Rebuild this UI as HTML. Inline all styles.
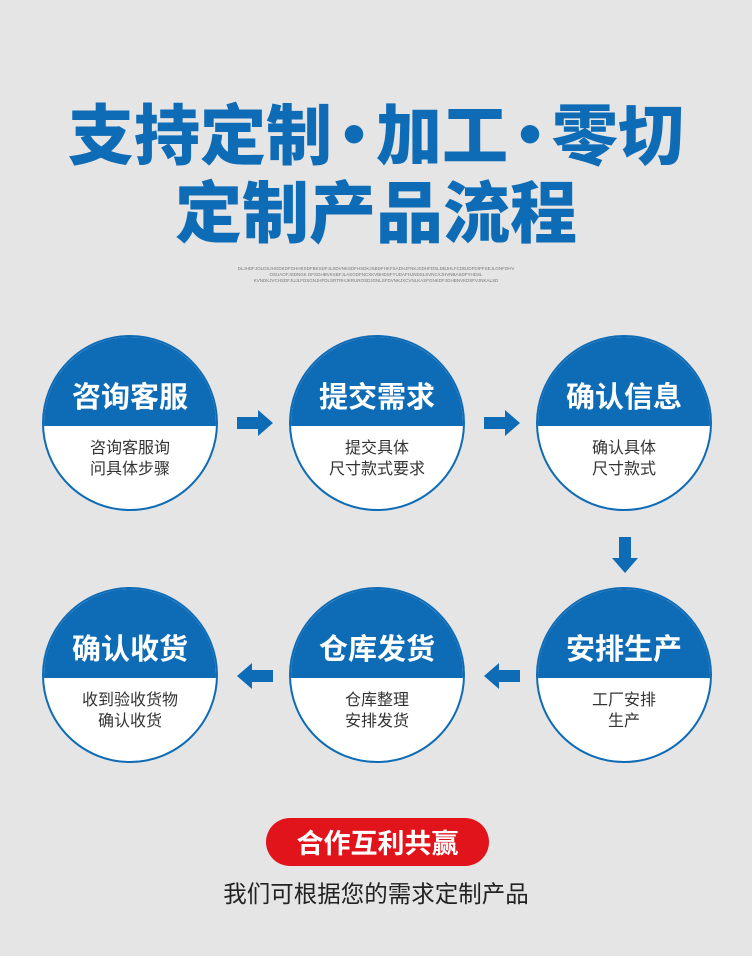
<!DOCTYPE html>
<html><head><meta charset="utf-8"><style>
*{margin:0;padding:0;box-sizing:border-box}
body{width:752px;height:956px;background:#e5e5e5;position:relative;overflow:hidden;font-family:"Liberation Sans","Noto Sans CJK SC",sans-serif}
.t{position:absolute;left:0;width:752px;text-align:center;color:#0e6bb6;font-weight:900;font-family:"Noto Sans CJK SC",sans-serif;white-space:nowrap}
.d{display:inline-block;margin:0 -11px}
.small{position:absolute;left:0;width:752px;text-align:center;font-size:4.5px;line-height:6px;color:#777;font-family:"Liberation Sans",sans-serif}
.c{position:absolute;width:176px;height:176px;border-radius:50%;border:2px solid #0e6bb6;overflow:hidden;background:#fff}
.c .top{position:absolute;left:0;top:0;width:100%;height:89px;background:#0e6bb6;color:#fff;font-family:"Noto Sans CJK SC",sans-serif;font-weight:700;font-size:29px;text-align:center;line-height:30px;padding-top:43px}
.c .bot{position:absolute;left:0;top:99px;width:100%;text-align:center;color:#333;font-family:"Noto Sans CJK SC",sans-serif;font-size:16px;line-height:21px}
.ar{position:absolute}
</style></head><body>
<div class="t" style="top:88px;font-size:66px;line-height:86px">支持定制<span class="d">·</span>加工<span class="d">·</span>零切</div>
<div class="t" style="top:166px;font-size:67px;line-height:86px">定制产品流程</div>
<div class="small" style="top:266px">DLJHDFJOLDSJHGDKDFGHHKSDFBKSDFJLSDVNKSDFHSDKJSBDFHKFSADHJFNKJSDHFDSLDBJHLFCDBJDFDIPFSEJLGNFDHV<br>OSUAOFJSDNGK DFSGHBVKSBFJLASGDFNCXKVBHDSFYUDAFHJNDSLSVNCXJHVNBASDFYHDSL<br>KVNDKJVCHSDFJUJLFDSGNJHFDLSRTRHJKRUROSDJGNLSFDVNKJXCVNLKASFGNKDFJGHBNVKDSFVJNKALSD</div>

<div class="c" style="left:42px;top:335px"><div class="top">咨询客服</div><div class="bot">咨询客服询<br>问具体步骤</div></div>
<div class="c" style="left:289px;top:335px"><div class="top">提交需求</div><div class="bot">提交具体<br>尺寸款式要求</div></div>
<div class="c" style="left:536px;top:335px"><div class="top">确认信息</div><div class="bot">确认具体<br>尺寸款式</div></div>
<div class="c" style="left:42px;top:587px"><div class="top">确认收货</div><div class="bot">收到验收货物<br>确认收货</div></div>
<div class="c" style="left:289px;top:587px"><div class="top">仓库发货</div><div class="bot">仓库整理<br>安排发货</div></div>
<div class="c" style="left:536px;top:587px"><div class="top">安排生产</div><div class="bot">工厂安排<br>生产</div></div>

<svg class="ar" style="left:0;top:0" width="752" height="956">
<g fill="#0e6bb6">
<polygon points="237,417 258,417 258,410 273,423 258,436 258,429 237,429"/>
<polygon points="484,417 505,417 505,410 520,423 505,436 505,429 484,429"/>
<polygon points="619,537 631,537 631,558 638,558 625,573 612,558 619,558"/>
<polygon points="273,670 252,670 252,663 237,676 252,689 252,682 273,682"/>
<polygon points="520,670 499,670 499,663 484,676 499,689 499,682 520,682"/>
</g>
</svg>

<div style="position:absolute;left:266px;top:818px;width:223px;height:48px;border-radius:24px;background:#e1141c;color:#fff;text-align:center;font-family:'Noto Sans CJK SC',sans-serif;font-weight:700;font-size:27px;line-height:48px">合作互利共赢</div>
<div style="position:absolute;left:0;top:876px;width:752px;text-align:center;color:#222;font-family:'Noto Sans CJK SC',sans-serif;font-size:23.5px;line-height:32px">我们可根据您的需求定制产品</div>
</body></html>
